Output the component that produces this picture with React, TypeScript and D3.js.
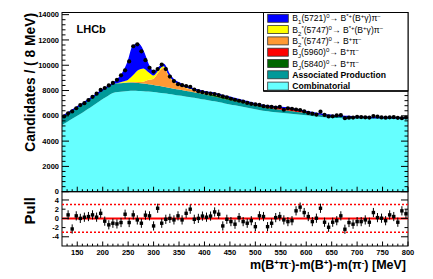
import * as d3 from 'd3';

const W = 433;
const H = 279;
const FONT = '"Liberation Sans", Arial, Helvetica, sans-serif';

// data: 8 MeV bins, 124 ... 796 MeV
const binCenters = d3.range(124, 800, 8);
const counts = [
  5950, 6200, 6350, 6600, 6850, 7000, 7250, 7500, 7750, 8050,
  8200, 8400, 8600, 8850, 9200, 9600, 10300, 11500, 11650, 11100,
  10400, 9800, 9500, 9700, 10050, 9700, 9100, 8750, 8500, 8420,
  8360, 8300, 8080, 7950, 7870, 7800, 7760, 7720, 7640, 7530,
  7460, 7350, 7270, 7190, 7120, 7020, 6950, 6900, 6860, 6760,
  6720, 6700, 6650, 6700, 6480, 6600, 6560, 6500, 6460, 6350,
  6230, 6170, 6100, 6330, 6070, 5950, 5960, 6030, 6050, 5810,
  5850, 5860, 5920, 5900, 5880, 5860, 5980, 5940, 5870, 5850,
  5880, 5890, 5840, 5810, 5860,
];
const pulls = [
  null, 0.76, -2.3, 0.55, 0.0, 0.26, 0.4, 0.76, 0.26, 1.1,
  -0.6, -1.4, -1.05, -1.2, -0.9, 0.9, -0.9, 0.76, -0.33, -1.05,
  0.7, 0.55, -1.64, 2.2, -1.05, -0.2, 0.0, -0.33, 0.55, -0.33,
  1.1, 2.0, -0.2, 0.0, 0.5, 0.26, 0.5, 1.4, 0.9, -1.64,
  -0.2, -0.7, -1.26, 0.17, -0.7, -1.05, -0.5, -1.8, 0.55, 0.4,
  -1.8, -1.05, 0.17, 0.4, -0.33, -0.7, -0.5, 1.64, 2.45, 1.27,
  0.4, -0.7, 0.04, 2.2, -0.83, -1.92, -0.83, -0.5, 0.55, -2.36,
  -0.9, -1.26, -0.7, -0.7, -0.33, -0.83, 1.27, 0.17, 0.04, -0.5,
  0.76, 0.4, -0.83, 1.64, 1.0,
];

// fit components, sampled every 10 MeV from 120 to 800
const modelMass = d3.range(120, 801, 10);
const combinatorial = [
  5270, 5520, 5770, 6010, 6250, 6510, 6780, 7060, 7330, 7570,
  7800, 7880, 7920, 7965, 7980, 7965, 7950, 7915, 7880, 7830,
  7780, 7725, 7670, 7610, 7550, 7485, 7420, 7355, 7290, 7220,
  7150, 7065, 6980, 6905, 6830, 6760, 6680, 6600, 6520, 6445,
  6375, 6320, 6275, 6235, 6200, 6160, 6120, 6080, 6040, 5990,
  5940, 5900, 5865, 5840, 5818, 5800, 5785, 5775, 5768, 5764,
  5762, 5760, 5760, 5759, 5758, 5756, 5755, 5753, 5752,
];
const associated = [
  650, 665, 680, 690, 700, 710, 720, 720, 720, 710,
  700, 690, 680, 665, 650, 625, 600, 580, 560, 540,
  520, 500, 480, 465, 450, 435, 420, 405, 390, 375,
  360, 345, 330, 320, 310, 300, 290, 280, 270, 260,
  250, 240, 230, 220, 210, 200, 190, 182, 175, 168,
  160, 155, 150, 145, 140, 135, 130, 120, 110, 105,
  100, 98, 95, 92, 90, 88, 85, 82, 80,
];
const bj5840 = [
  0, 0, 0, 0, 0, 0, 0, 0, 0, 0,
  0, 0, 0, 0, 0, 0, 0, 0, 0, 0,
  0, 0, 0, 0, 10, 20, 30, 45, 60, 90,
  120, 135, 140, 140, 130, 120, 110, 95, 80, 70,
  60, 50, 40, 35, 30, 25, 20, 18, 15, 13,
  11, 10, 9, 8, 7, 6, 5, 5, 4, 4,
  3, 3, 3, 2, 2, 2, 2, 2, 2,
];
const bj5960 = [
  0, 0, 0, 0, 0, 0, 0, 0, 0, 0,
  0, 0, 0, 0, 0, 0, 0, 0, 0, 0,
  0, 0, 0, 0, 0, 0, 0, 0, 0, 0,
  0, 0, 0, 0, 0, 0, 5, 10, 20, 35,
  60, 90, 120, 145, 160, 160, 150, 125, 100, 80,
  60, 45, 32, 25, 20, 15, 12, 9, 7, 6,
  5, 4, 4, 3, 3, 3, 2, 2, 2,
];
const b2BPi = [
  0, 0, 0, 0, 0, 0, 0, 0, 0, 0,
  0, 0, 20, 30, 40, 80, 150, 350, 500, 1100,
  1500, 900, 500, 380, 250, 190, 150, 120, 100, 90,
  80, 70, 60, 55, 50, 45, 40, 35, 30, 27,
  25, 22, 20, 18, 16, 14, 12, 10, 9, 8,
  7, 6, 6, 5, 5, 4, 4, 4, 3, 3,
  3, 3, 2, 2, 2, 2, 2, 2, 2,
];
const b2BstarPi = [
  0, 0, 0, 0, 0, 0, 0, 0, 0, 0,
  0, 20, 100, 200, 550, 950, 1050, 600, 250, 150,
  110, 80, 60, 50, 40, 35, 30, 25, 20, 18,
  15, 13, 12, 10, 9, 8, 7, 6, 5, 5,
  5, 4, 4, 4, 3, 3, 3, 3, 2, 2,
  2, 2, 2, 2, 2, 2, 1, 1, 1, 1,
  1, 1, 1, 1, 1, 1, 1, 1, 1,
];
const b1BstarPi = [
  0, 0, 0, 0, 0, 0, 0, 0, 10, 25,
  60, 300, 700, 1400, 2300, 2050, 1300, 550, 250, 180,
  150, 130, 110, 90, 80, 70, 60, 55, 50, 45,
  40, 37, 35, 32, 30, 28, 25, 22, 20, 19,
  18, 17, 16, 15, 14, 13, 12, 12, 11, 11,
  10, 10, 9, 9, 8, 8, 8, 7, 7, 7,
  6, 6, 6, 6, 5, 5, 5, 5, 5,
];

const layerKeys = ['comb', 'assoc', 'bj5840', 'bj5960', 'b2bpi', 'b2bstar', 'b1'];
const layerColors = ['#66ffff', '#009999', '#006600', '#ff0000', '#ff9933', '#ffff00', '#0000ff'];

const xMajor = d3.range(150, 801, 50);
const xMinor = d3.range(130, 801, 10).filter((v) => v % 50 !== 0);
const yMajor = d3.range(0, 14001, 2000);
const yMinor = d3.range(0, 14001, 400).filter((v) => v % 2000 !== 0);
const pullTicks = [-4, -2, 0, 2, 4];

function Sup({ t }: { t: string }) {
  return <tspan baselineShift="super" fontSize="6">{t}</tspan>;
}
function Sub({ t }: { t: string }) {
  return <tspan baselineShift="sub" fontSize="6">{t}</tspan>;
}

export default function App() {
  const left = 62, right = 408, top = 12.5, mid = 191.7, bottom = 246;
  const x = d3.scaleLinear().domain([120, 800]).range([left, right]);
  const y = d3.scaleLinear().domain([0, 14170]).range([mid, top]);
  const yp = d3.scaleLinear().domain([-6, 5.8]).range([bottom, mid]);

  const rows = modelMass.map((m, i) => ({
    m,
    comb: combinatorial[i],
    assoc: associated[i],
    bj5840: bj5840[i],
    bj5960: bj5960[i],
    b2bpi: b2BPi[i],
    b2bstar: b2BstarPi[i],
    b1: b1BstarPi[i],
  }));
  const series = d3.stack<any>().keys(layerKeys)(rows);
  const area = d3
    .area<any>()
    .x((d) => x(d.data.m))
    .y0((d) => y(d[0]))
    .y1((d) => y(d[1]))
    .curve(d3.curveMonotoneX);
  const topLine = d3
    .line<any>()
    .x((d) => x(d.data.m))
    .y((d) => y(d[1]))
    .curve(d3.curveMonotoneX);

  const legendRows = [
    { c: '#0000ff', label: <><tspan>B</tspan><Sub t="1" /><tspan>(5721)</tspan><Sup t="0" /><tspan>→ B</tspan><Sup t="*+" /><tspan>(B</tspan><Sup t="+" /><tspan>γ)π</tspan><Sup t="−" /></>, bold: false },
    { c: '#ffff00', label: <><tspan>B</tspan><Sub t="2" /><Sup t="*" /><tspan>(5747)</tspan><Sup t="0" /><tspan>→ B</tspan><Sup t="*+" /><tspan>(B</tspan><Sup t="+" /><tspan>γ)π</tspan><Sup t="−" /></>, bold: false },
    { c: '#ff9933', label: <><tspan>B</tspan><Sub t="2" /><Sup t="*" /><tspan>(5747)</tspan><Sup t="0" /><tspan>→ B</tspan><Sup t="+" /><tspan>π</tspan><Sup t="−" /></>, bold: false },
    { c: '#ff0000', label: <><tspan>B</tspan><Sub t="J" /><tspan>(5960)</tspan><Sup t="0" /><tspan>→ B</tspan><Sup t="+" /><tspan>π</tspan><Sup t="−" /></>, bold: false },
    { c: '#006600', label: <><tspan>B</tspan><Sub t="J" /><tspan>(5840)</tspan><Sup t="0" /><tspan>→ B</tspan><Sup t="+" /><tspan>π</tspan><Sup t="−" /></>, bold: false },
    { c: '#009999', label: <tspan>Associated Production</tspan>, bold: true },
    { c: '#66ffff', label: <tspan>Combinatorial</tspan>, bold: true },
  ];

  return (
    <svg width={W} height={H} style={{ position: 'absolute', left: 0, top: 0, background: '#fff' }} fontFamily={FONT}>
      <defs>
        <clipPath id="upper">
          <rect x={left} y={top} width={right - left} height={mid - top} />
        </clipPath>
      </defs>

      <g clipPath="url(#upper)">
        {series.map((s, i) => (
          <path key={s.key} d={area(s) || ''} fill={layerColors[i]} />
        ))}
        <path d={topLine(series[series.length - 1]) || ''} fill="none" stroke="#0000ff" strokeWidth={1.5} />
      </g>

      {/* data points */}
      {counts.map((c, i) => (
        <g key={i}>
          <line x1={x(binCenters[i])} x2={x(binCenters[i])} y1={y(c - Math.sqrt(c))} y2={y(c + Math.sqrt(c))} stroke="#000" />
          <circle cx={x(binCenters[i])} cy={y(c)} r={2.1} fill="#000" />
        </g>
      ))}

      {/* upper frame and axes */}
      <rect x={left} y={top} width={right - left} height={mid - top} fill="none" stroke="#000" strokeWidth={1} />
      {yMajor.map((v) => (
        <g key={'ym' + v}>
          <line x1={left} x2={left + 7} y1={y(v)} y2={y(v)} stroke="#000" />
          <line x1={right} x2={right - 7} y1={y(v)} y2={y(v)} stroke="#000" />
          <text x={left - 3} y={y(v)} dy="0.35em" textAnchor="end" fontSize={7.5} fontWeight="bold">{v}</text>
        </g>
      ))}
      {yMinor.map((v) => (
        <g key={'yn' + v}>
          <line x1={left} x2={left + 3.5} y1={y(v)} y2={y(v)} stroke="#000" />
          <line x1={right} x2={right - 3.5} y1={y(v)} y2={y(v)} stroke="#000" />
        </g>
      ))}
      {xMajor.map((v) => (
        <line key={'xu' + v} x1={x(v)} x2={x(v)} y1={mid} y2={mid - 5} stroke="#000" />
      ))}
      {xMinor.map((v) => (
        <line key={'xun' + v} x1={x(v)} x2={x(v)} y1={mid} y2={mid - 2.5} stroke="#000" />
      ))}

      <text x={76.5} y={33} fontSize={11} fontWeight="bold">LHCb</text>
      <text transform="translate(35,13) rotate(-90)" textAnchor="end" fontSize={13.8} fontWeight="bold">Candidates / ( 8 MeV)</text>

      {/* legend */}
      <rect x={263.5} y={top} width={right - 263.5} height={78.5} fill="#fff" stroke="#000" strokeWidth={1} />
      <line x1={263.5} x2={right} y1={top + 78.5} y2={top + 78.5} stroke="#000" strokeWidth={1.5} />
      {legendRows.map((r, i) => {
        const cy = 18.3 + i * 11.3;
        return (
          <g key={i}>
            <rect x={267.7} y={cy - 4} width={20.6} height={8} fill={r.c} stroke="#333" strokeWidth={0.8} />
            <text x={292.3} y={cy} dy="0.35em" fontSize={8.6} fontWeight={r.bold ? 'bold' : 'normal'}>{r.label}</text>
          </g>
        );
      })}

      {/* pull panel */}
      <rect x={left} y={mid} width={right - left} height={bottom - mid} fill="none" stroke="#000" strokeWidth={1} />
      <line x1={left} x2={right} y1={yp(3)} y2={yp(3)} stroke="#ff0000" strokeWidth={1.5} strokeDasharray="2 2" />
      <line x1={left} x2={right} y1={yp(-3)} y2={yp(-3)} stroke="#ff0000" strokeWidth={1.5} strokeDasharray="2 2" />
      <line x1={left} x2={right} y1={yp(0)} y2={yp(0)} stroke="#ff0000" strokeWidth={2} />
      {pulls.map((p, i) =>
        p === null ? null : (
          <g key={'p' + i}>
            <line x1={x(binCenters[i])} x2={x(binCenters[i])} y1={yp(p - 1)} y2={yp(p + 1)} stroke="#000" />
            <rect x={x(binCenters[i]) - 1.7} y={yp(p) - 1.7} width={3.4} height={3.4} fill="#000" />
          </g>
        )
      )}
      {pullTicks.map((v) => (
        <g key={'pt' + v}>
          <line x1={left} x2={left + (v % 4 === 0 ? 7 : 3.5)} y1={yp(v)} y2={yp(v)} stroke="#000" />
          <line x1={right} x2={right - (v % 4 === 0 ? 7 : 3.5)} y1={yp(v)} y2={yp(v)} stroke="#000" />
          <text x={left - 3} y={yp(v)} dy="0.35em" textAnchor="end" fontSize={7.5} fontWeight="bold">{v}</text>
        </g>
      ))}
      {xMajor.map((v) => (
        <g key={'xb' + v}>
          <line x1={x(v)} x2={x(v)} y1={bottom} y2={bottom - 4.5} stroke="#000" />
          <text x={x(v)} y={255} textAnchor="middle" fontSize={7.5} fontWeight="bold">{v}</text>
        </g>
      ))}
      {xMinor.map((v) => (
        <line key={'xbn' + v} x1={x(v)} x2={x(v)} y1={bottom} y2={bottom - 2.3} stroke="#000" />
      ))}
      <text transform="translate(35,197) rotate(-90)" textAnchor="end" fontSize={15} fontWeight="bold">Pull</text>

      <text x={406} y={269} textAnchor="end" fontSize={12.5} fontWeight="bold">
        <tspan>m(B</tspan><tspan baselineShift="super" fontSize="8">+</tspan><tspan>π</tspan><tspan baselineShift="super" fontSize="8">-</tspan><tspan>)-m(B</tspan><tspan baselineShift="super" fontSize="8">+</tspan><tspan>)-m(π</tspan><tspan baselineShift="super" fontSize="8">-</tspan><tspan>) [MeV]</tspan>
      </text>
    </svg>
  );
}
